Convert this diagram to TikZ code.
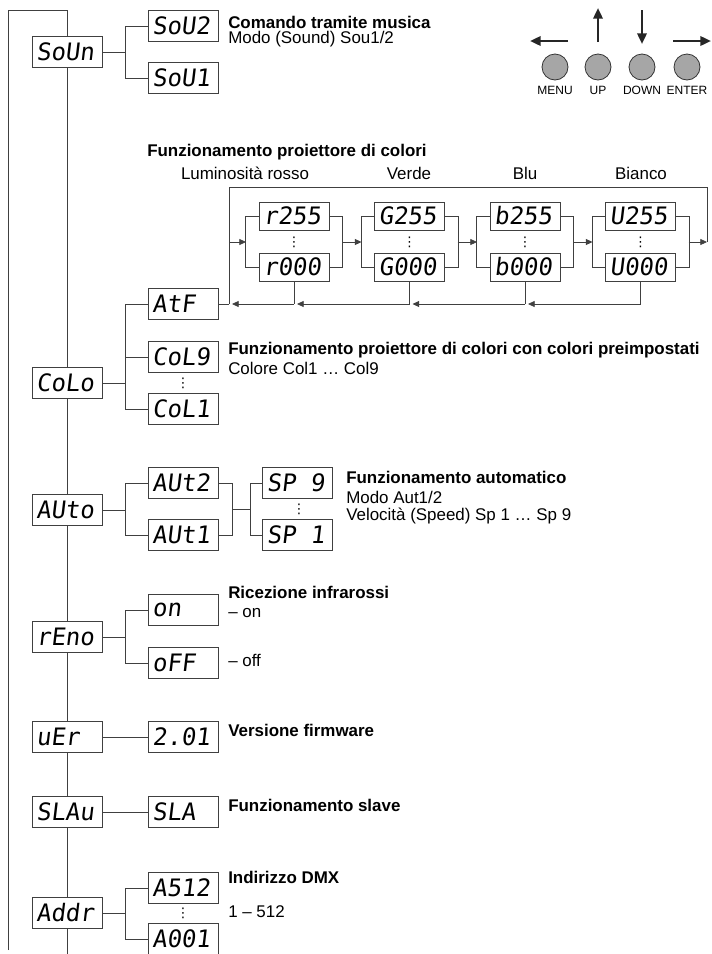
\documentclass[tikz,border=0pt]{standalone}
\usepackage{fontspec}
\setmainfont{Liberation Sans}
\newfontfamily\segfont[FakeSlant=0.12]{DejaVu Sans Mono}
\newfontfamily\symfont{DejaVu Sans}
\usetikzlibrary{arrows.meta}
\newcommand{\lblfont}{\fontsize{12.7}{15}\selectfont}
\newcommand{\dsp}[1]{\makebox[46pt][l]{\fontsize{18}{18}\segfont #1}}
\tikzset{
  disp/.style={draw=black!75, fill=white, line width=0.6pt, minimum width=52.5pt,
    minimum height=23pt, inner sep=0pt},
  cdisp/.style={disp, minimum height=21pt},
  wire/.style={draw=black!75, line width=0.6pt},
  lbl/.style={anchor=west, inner sep=0pt, font=\lblfont},
  hdr/.style={lbl, font=\lblfont\bfseries},
  dots/.style={inner sep=0pt, font=\symfont\fontsize{10}{10}\selectfont},
  btn/.style={circle, draw=black!80, fill=black!35, minimum size=19.5pt, inner sep=0pt,
    line width=0.6pt},
  barrow/.style={-{Triangle[length=8pt, width=7pt]}, line width=1.8pt, black!85},
}
\begin{document}
\begin{tikzpicture}[x=0.75pt, y=-0.75pt, >={Triangle[length=5pt, width=4.5pt]}]
  \useasboundingbox (0,0) rectangle (712,954);

  % main menu
  \node[disp] (soun) at (67,52) {\dsp{SoUn}};
  \node[disp] (colo) at (67,383) {\dsp{CoLo}};
  \node[disp] (auto) at (67,510) {\dsp{AUto}};
  \node[disp] (reno) at (67,637) {\dsp{rEno}};
  \node[disp] (ver) at (67,737) {\dsp{uEr}};
  \node[disp] (slav) at (67,812) {\dsp{SLAu}};
  \node[disp] (addr) at (67,913) {\dsp{Addr}};
  \coordinate (tl) at (8,10);
  \draw[wire] (8,950) -- (tl) -| (soun.north);
  \draw[wire] (soun.south) -- (colo.north);
  \draw[wire] (colo.south) -- (auto.north);
  \draw[wire] (auto.south) -- (reno.north);
  \draw[wire] (reno.south) -- (ver.north);
  \draw[wire] (ver.south) -- (slav.north);
  \draw[wire] (slav.south) -- (addr.north);
  \draw[wire] (addr.south) -- (67,954);

  % buttons
  \node[btn, label={[font=\fontsize{9}{10}\selectfont, yshift=-1pt]below:MENU}] (menu) at (555,67) {};
  \node[btn, label={[font=\fontsize{9}{10}\selectfont, yshift=-1pt]below:UP}] (up) at (598,67) {};
  \node[btn, label={[font=\fontsize{9}{10}\selectfont, yshift=-1pt]below:DOWN}] (down) at (642,67) {};
  \node[btn, label={[font=\fontsize{9}{10}\selectfont, yshift=-1pt]below:ENTER}] (enter) at (687,67) {};
  \draw[barrow] (568,41) -- (530,41);
  \draw[barrow] (598,42) -- (598,8);
  \draw[barrow] (642,10) -- (642,44);
  \draw[barrow] (673,41) -- (711,41);

  % sound
  \node[disp] (sou2) at (183,26) {\dsp{SoU2}};
  \node[disp] (sou1) at (183,78) {\dsp{SoU1}};
  \draw[wire] (soun.east) -- ++(23,0) coordinate (jS);
  \draw[wire] (jS) |- (sou2.west);
  \draw[wire] (jS) |- (sou1.west);
  \node[hdr] at (228,22) {Comando tramite musica};
  \node[lbl] at (228,39) {Modo (Sound) Sou1/2};

  % colours
  \node[hdr] at (147,152) {Funzionamento proiettore di colori};
  \node[font=\lblfont] at (245,173) {Luminosità rosso};
  \node[font=\lblfont] at (409,173) {Verde};
  \node[font=\lblfont] at (525,173) {Blu};
  \node[font=\lblfont] at (641,173) {Bianco};
  \foreach \cl/\x in {r/294,G/409.5,b/525,U/640.5} {
    \node[cdisp] (\cl hi) at (\x,216) {\dsp{\cl255}};
    \node[cdisp] (\cl lo) at (\x,267) {\dsp{\cl000}};
    \node[dots] at (\x,242) {⋮};
    \draw[wire] (\cl hi.west) -- ++(-13,0) |- (\cl lo.west);
    \draw[wire] (\cl hi.east) -- ++(13,0) |- (\cl lo.east);
    \draw[wire] (\cl lo.south) -- ++(0,23);
  }
  \coordinate (rin) at (246,242);   \coordinate (rout) at (342,242);
  \coordinate (gin) at (361.5,242); \coordinate (gout) at (457.5,242);
  \coordinate (bin) at (477,242);   \coordinate (bout) at (573,242);
  \coordinate (uin) at (592.5,242); \coordinate (uout) at (688.5,242);
  \coordinate (rbot) at (294,304);  \coordinate (gbot) at (409.5,304);
  \coordinate (bbot) at (525,304);  \coordinate (ubot) at (640.5,304);
  \draw[wire, ->] (rout) -- (gin);
  \draw[wire, ->] (gout) -- (bin);
  \draw[wire, ->] (bout) -- (uin);
  \coordinate (loopR) at (707,242);
  \coordinate (ltop) at (229,187);
  \coordinate (loopL) at (229,242);
  \coordinate (atfj) at (229,304);
  \draw[wire, ->] (uout) -- (loopR);
  \draw[wire] (loopR) |- (ltop) -- (atfj);
  \draw[wire, ->] (loopL) -- (rin);

  \node[disp] (atf) at (183,304) {\dsp{AtF}};
  \node[disp] (col9) at (183,357) {\dsp{CoL9}};
  \node[disp] (col1) at (183,409) {\dsp{CoL1}};
  \node[dots] at (183,383) {⋮};
  \draw[wire] (atfj) -- (atf.east);
  \draw[wire, ->] (ubot) -- ([xshift=2.25pt]bbot);
  \draw[wire, ->] (bbot) -- ([xshift=2.25pt]gbot);
  \draw[wire, ->] (gbot) -- ([xshift=2.25pt]rbot);
  \draw[wire, ->] (rbot) -- ([xshift=2.25pt]atfj);
  \draw[wire] (colo.east) -- ++(23,0) coordinate (jC);
  \draw[wire] (jC) |- (atf.west);
  \draw[wire] (jC) |- (col9.west);
  \draw[wire] (jC) |- (col1.west);
  \node[hdr] at (228,350) {Funzionamento proiettore di colori con colori preimpostati};
  \node[lbl] at (228,368) {Colore Col1 … Col9};

  % auto
  \node[disp] (aut2) at (183,483) {\dsp{AUt2}};
  \node[disp] (aut1) at (183,535) {\dsp{AUt1}};
  \node[disp] (sp9) at (297.5,483) {\dsp{SP 9}};
  \node[disp] (sp1) at (297.5,535) {\dsp{SP 1}};
  \node[dots] at (299,509) {⋮};
  \draw[wire] (auto.east) -- ++(23,0) coordinate (jA);
  \draw[wire] (jA) |- (aut2.west);
  \draw[wire] (jA) |- (aut1.west);
  \coordinate (jA2) at (232,509);
  \draw[wire] (aut2.east) -| (jA2);
  \draw[wire] (aut1.east) -| (jA2);
  \coordinate (jP) at (250,509);
  \draw[wire] (jA2) -- (jP);
  \draw[wire] (jP) |- (sp9.west);
  \draw[wire] (jP) |- (sp1.west);
  \node[hdr] at (346,477) {Funzionamento automatico};
  \node[lbl] at (346,497) {Modo Aut1/2};
  \node[lbl] at (346,516) {Velocità (Speed) Sp 1 … Sp 9};

  % infrared
  \node[disp] (on) at (183,610) {\dsp{on}};
  \node[disp] (off) at (183,663) {\dsp{oFF}};
  \draw[wire] (reno.east) -- ++(23,0) coordinate (jR);
  \draw[wire] (jR) |- (on.west);
  \draw[wire] (jR) |- (off.west);
  \node[hdr] at (228,592) {Ricezione infrarossi};
  \node[lbl] at (228,613) {– on};
  \node[lbl] at (228,660) {– off};

  % version, slave
  \node[disp] (fw) at (183,737) {\dsp{2.01}};
  \draw[wire] (ver.east) -- (fw.west);
  \node[hdr] at (228,730) {Versione firmware};
  \node[disp] (sla) at (183,812) {\dsp{SLA}};
  \draw[wire] (slav.east) -- (sla.west);
  \node[hdr] at (228,805) {Funzionamento slave};

  % dmx address
  \node[disp] (a512) at (183,888) {\dsp{A512}};
  \node[disp] (a001) at (183,939) {\dsp{A001}};
  \node[dots] at (183,913) {⋮};
  \draw[wire] (addr.east) -- ++(23,0) coordinate (jD);
  \draw[wire] (jD) |- (a512.west);
  \draw[wire] (jD) |- (a001.west);
  \node[hdr] at (228,877) {Indirizzo DMX};
  \node[lbl] at (228,912) {1 – 512};
\end{tikzpicture}
\end{document}
